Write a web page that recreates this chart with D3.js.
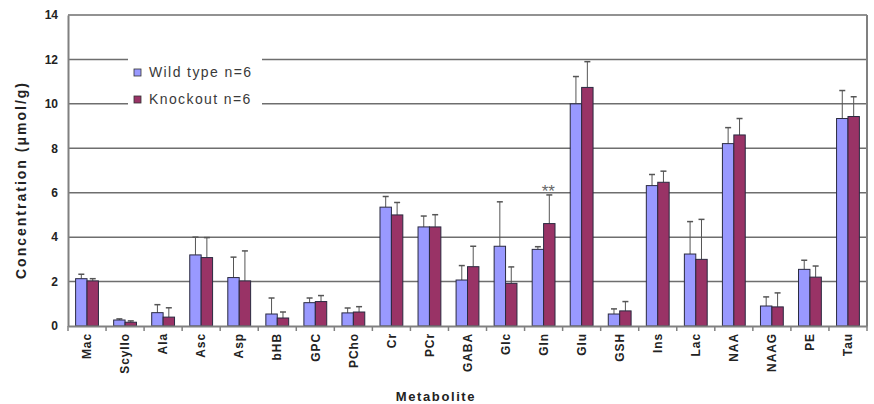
<!DOCTYPE html>
<html>
<head>
<meta charset="utf-8">
<script src="https://cdn.jsdelivr.net/npm/d3@7"></script>
<style>
  body { margin: 0; background: #fff; }
  svg { font-family: "Liberation Sans", Arial, sans-serif; }
</style>
</head>
<body>
<div id="chart"></div>
<script>
const metabolites = ["Mac", "Scyllo", "Ala", "Asc", "Asp", "bHB", "GPC", "PCho", "Cr", "PCr", "GABA",
  "Glc", "Gln", "Glu", "GSH", "Ins", "Lac", "NAA", "NAAG", "PE", "Tau"];
const wildType = [2.13, 0.27, 0.6, 3.2, 2.18, 0.54, 1.05, 0.59, 5.35, 4.46, 2.07,
  3.59, 3.45, 10.0, 0.54, 6.32, 3.24, 8.21, 0.9, 2.55, 9.34];
const wildTypeErr = [0.2, 0.05, 0.36, 0.8, 0.92, 0.72, 0.21, 0.22, 0.48, 0.49, 0.65,
  2.0, 0.12, 1.23, 0.23, 0.5, 1.46, 0.72, 0.41, 0.41, 1.26];
const knockout = [2.03, 0.17, 0.4, 3.08, 2.03, 0.36, 1.1, 0.63, 5.0, 4.46, 2.67,
  1.92, 4.61, 10.74, 0.68, 6.47, 3.0, 8.6, 0.86, 2.2, 9.43];
const knockoutErr = [0.1, 0.06, 0.42, 0.9, 1.35, 0.27, 0.27, 0.24, 0.56, 0.55, 0.92,
  0.74, 1.29, 1.16, 0.42, 0.5, 1.8, 0.74, 0.63, 0.5, 0.89];
const yTicks = [0, 2, 4, 6, 8, 10, 12, 14];
const seriesNames = ["Wild type n=6", "Knockout n=6"];
const seriesColors = ["#9999ff", "#993366"];

const W = 874, H = 404;
const margin = { left: 68, right: 7, top: 15, bottom: 78 };

const svg = d3.select("#chart").append("svg")
  .attr("width", W).attr("height", H);

const x = d3.scaleBand()
  .domain(metabolites)
  .range([margin.left, W - margin.right])
  .paddingInner(0.4)
  .paddingOuter(0.2);
const xs = d3.scaleBand().domain([0, 1]).range([0, x.bandwidth()]);
const y = d3.scaleLinear().domain([0, 14]).range([H - margin.bottom, margin.top]);

// gridlines
svg.append("g")
  .selectAll("line")
  .data(yTicks.slice(1))
  .join("line")
  .attr("x1", margin.left).attr("x2", W - margin.right)
  .attr("y1", d => y(d)).attr("y2", d => y(d))
  .attr("stroke", "#6e6e6e").attr("stroke-width", 1.5);

// right border
svg.append("line")
  .attr("x1", W - margin.right).attr("x2", W - margin.right)
  .attr("y1", y(14)).attr("y2", y(0))
  .attr("stroke", "#808080").attr("stroke-width", 2);

// legend box
const lg = svg.append("g");
lg.append("rect")
  .attr("x", 128).attr("y", 56).attr("width", 134).attr("height", 54)
  .attr("fill", "#fff");
seriesNames.forEach((name, i) => {
  lg.append("rect")
    .attr("x", 134).attr("y", 69 + i * 27).attr("width", 7).attr("height", 7)
    .attr("fill", seriesColors[i]).attr("stroke", "#333").attr("stroke-width", 0.8);
  lg.append("text")
    .attr("x", 149).attr("y", 77 + i * 27)
    .attr("font-size", 14).attr("fill", "#3a3a3a")
    .attr("letter-spacing", 1.4)
    .text(name);
});

const groups = [
  { vals: wildType, errs: wildTypeErr },
  { vals: knockout, errs: knockoutErr }
];

groups.forEach((g, si) => {
  const gg = svg.append("g");
  const items = metabolites.map((m, i) => ({ m, v: g.vals[i], e: g.errs[i] }));
  // error bars
  gg.selectAll("line.err")
    .data(items)
    .join("line")
    .attr("class", "err")
    .attr("x1", d => x(d.m) + xs(si) + xs.bandwidth() / 2)
    .attr("x2", d => x(d.m) + xs(si) + xs.bandwidth() / 2)
    .attr("y1", d => y(d.v)).attr("y2", d => y(d.v + d.e))
    .attr("stroke", "#555").attr("stroke-width", 1);
  gg.selectAll("line.cap")
    .data(items)
    .join("line")
    .attr("class", "cap")
    .attr("x1", d => x(d.m) + xs(si) + xs.bandwidth() / 2 - 3)
    .attr("x2", d => x(d.m) + xs(si) + xs.bandwidth() / 2 + 3)
    .attr("y1", d => y(d.v + d.e)).attr("y2", d => y(d.v + d.e))
    .attr("stroke", "#555").attr("stroke-width", 1.5);
  gg.selectAll("rect")
    .data(items)
    .join("rect")
    .attr("x", d => x(d.m) + xs(si))
    .attr("width", xs.bandwidth())
    .attr("y", d => y(d.v))
    .attr("height", d => y(0) - y(d.v))
    .attr("fill", seriesColors[si])
    .attr("stroke", "#2a2a40").attr("stroke-width", 1);
});

// significance mark above Gln knockout
svg.append("text")
  .attr("x", x("Gln") + xs(1) + xs.bandwidth() / 2 - 1)
  .attr("y", y(knockout[12] + knockoutErr[12]) + 2)
  .attr("text-anchor", "middle")
  .attr("font-size", 17).attr("fill", "#666")
  .text("**");

// y axis
const yAxis = svg.append("g")
  .attr("transform", `translate(${margin.left},0)`)
  .call(d3.axisLeft(y).tickValues(yTicks).tickSize(0).tickPadding(10));
yAxis.select(".domain").attr("stroke", "#808080").attr("stroke-width", 2);
yAxis.selectAll("text")
  .attr("font-size", 12).attr("font-weight", "bold").attr("fill", "#222")
  .attr("font-family", "Liberation Sans, Arial, sans-serif");

// x axis
const xAxis = svg.append("g")
  .attr("transform", `translate(0,${y(0)})`)
  .call(d3.axisBottom(x).tickSize(0).tickSizeOuter(0));
xAxis.select(".domain").attr("stroke", "#808080").attr("stroke-width", 2);
xAxis.selectAll(".tick text")
  .attr("transform", "rotate(-90)")
  .attr("text-anchor", "end")
  .attr("x", -7).attr("y", 0).attr("dy", "0.35em")
  .attr("font-size", 12).attr("font-weight", "bold").attr("fill", "#222")
  .attr("letter-spacing", 0.9)
  .attr("font-family", "Liberation Sans, Arial, sans-serif");
// tick marks between categories
const step = x.step();
svg.append("g")
  .selectAll("line")
  .data(metabolites.concat(["end"]))
  .join("line")
  .attr("x1", (d, i) => x(metabolites[0]) - step * x.paddingInner() / 2 + i * step)
  .attr("x2", (d, i) => x(metabolites[0]) - step * x.paddingInner() / 2 + i * step)
  .attr("y1", y(0)).attr("y2", y(0) + 5)
  .attr("stroke", "#808080").attr("stroke-width", 1.5);

// axis titles
svg.append("text")
  .attr("transform", `translate(26,180) rotate(-90)`)
  .attr("text-anchor", "middle")
  .attr("font-size", 14).attr("font-weight", "bold").attr("fill", "#222")
  .attr("letter-spacing", 2)
  .text("Concentration (\u03bcmol/g)");

svg.append("text")
  .attr("x", 436).attr("y", 401)
  .attr("text-anchor", "middle")
  .attr("font-size", 13).attr("font-weight", "bold").attr("fill", "#222")
  .attr("letter-spacing", 1.6)
  .text("Metabolite");
</script>
</body>
</html>
